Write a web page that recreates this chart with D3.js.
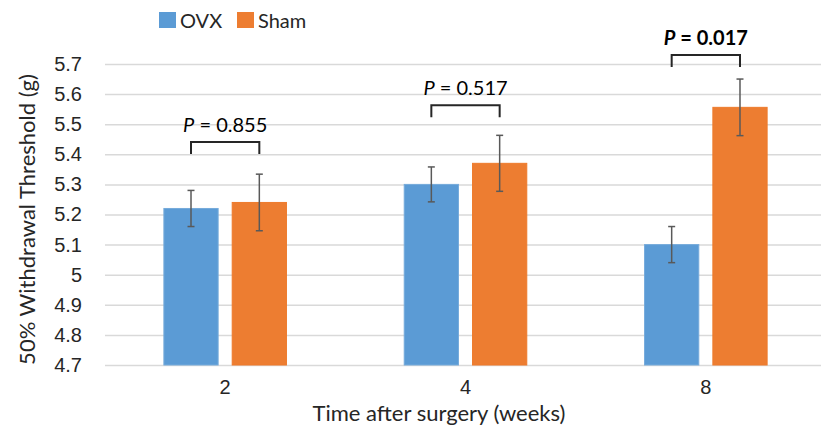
<!DOCTYPE html>
<html>
<head>
<meta charset="utf-8">
<script src="https://cdn.jsdelivr.net/npm/d3@7"></script>
<style>
  body { margin: 0; background: #fff; }
  svg { display: block; font-family: Lato, "Open Sans", sans-serif; }
</style>
</head>
<body>
<div id="chart"></div>
<script>
// values
var weeks = ["2", "4", "8"];
var groups = ["OVX", "Sham"];
var ovxMean = [5.22, 5.30, 5.10];
var ovxErr = [0.06, 0.058, 0.06];
var shamMean = [5.24, 5.37, 5.556];
var shamErr = [0.094, 0.093, 0.094];
var pValues = ["0.855", "0.517", "0.017"];
var pBold = [false, false, true];
var bracketLevel = [5.441, 5.563, 5.730];
var yTicks = [4.7, 4.8, 4.9, 5, 5.1, 5.2, 5.3, 5.4, 5.5, 5.6, 5.7];
var colours = { OVX: "#5b9bd5", Sham: "#ed7d31" };
var edges = { OVX: "#76abdb", Sham: "#ee7b2c" };

(function() {
"use strict";

var width = 821, height = 428;
var plotL = 105, plotR = 826, plotT = 64, plotB = 365;

var svg = d3.select("#chart").append("svg")
    .attr("width", width)
    .attr("height", height);

var x0 = d3.scaleBand().domain(weeks).range([plotL, plotR])
    .paddingInner(0.49).paddingOuter(0.245);
var x1 = d3.scaleBand().domain(groups).range([0, x0.bandwidth()])
    .paddingInner(0.206);
var y = d3.scaleLinear().domain([4.7, 5.7]).range([plotB, plotT]);

// gridlines + tick labels
var yAxis = svg.append("g")
    .attr("transform", "translate(" + plotL + ",0)")
    .call(d3.axisLeft(y).tickValues(yTicks).tickSize(-(plotR - plotL)).tickPadding(23)
        .tickFormat(function(d) { return String(+d.toFixed(1)); }));
yAxis.select(".domain").remove();
yAxis.selectAll("line").attr("stroke", "#d9d9d9").attr("stroke-width", 1.5);
yAxis.selectAll("text").attr("fill", "#262626").style("font-size", "20px");

var xAxis = svg.append("g")
    .attr("transform", "translate(0," + plotB + ")")
    .call(d3.axisBottom(x0).tickSize(0).tickPadding(15));
xAxis.select(".domain").remove();
xAxis.selectAll("text").attr("fill", "#262626").style("font-size", "20px");

// rows for bars
var rows = [];
weeks.forEach(function(w, i) {
    rows.push({ week: w, group: "OVX", mean: ovxMean[i], err: ovxErr[i] });
    rows.push({ week: w, group: "Sham", mean: shamMean[i], err: shamErr[i] });
});
function cx(d) { return x0(d.week) + x1(d.group) + x1.bandwidth() / 2; }

svg.append("g").selectAll("rect")
    .data(rows)
    .enter().append("rect")
    .attr("x", function(d) { return x0(d.week) + x1(d.group); })
    .attr("y", function(d) { return y(d.mean); })
    .attr("width", x1.bandwidth())
    .attr("height", function(d) { return y(4.7) - y(d.mean); })
    .attr("fill", function(d) { return colours[d.group]; })
    .attr("stroke", function(d) { return edges[d.group]; })
    .attr("stroke-width", 1);

// error bars
var eb = svg.append("g").attr("stroke", "#595959").attr("stroke-width", 1.5).attr("fill", "none");
rows.forEach(function(d) {
    var c = cx(d), t = y(d.mean + d.err), b = y(d.mean - d.err);
    eb.append("line").attr("x1", c).attr("x2", c).attr("y1", t).attr("y2", b);
    eb.append("line").attr("x1", c - 3.5).attr("x2", c + 3.5).attr("y1", t).attr("y2", t);
    eb.append("line").attr("x1", c - 3.5).attr("x2", c + 3.5).attr("y1", b).attr("y2", b);
});

// significance brackets
weeks.forEach(function(w, i) {
    var a = x0(w) + x1("OVX") + x1.bandwidth() / 2;
    var b = x0(w) + x1("Sham") + x1.bandwidth() / 2;
    var by = y(bracketLevel[i]);
    svg.append("path")
        .attr("d", "M" + a + "," + (by + 12) + "V" + by + "H" + b + "V" + (by + 12))
        .attr("fill", "none").attr("stroke", "#262626").attr("stroke-width", 2);
    var t = svg.append("text")
        .attr("x", (a + b) / 2)
        .attr("y", by - 10)
        .attr("text-anchor", "middle")
        .attr("fill", "#000")
        .style("font-size", "20px")
        .style("font-weight", pBold[i] ? "bold" : "normal");
    t.append("tspan").style("font-style", "italic").text("P");
    t.append("tspan").text(" = " + pValues[i]);
});

// legend
var lg = svg.append("g").attr("transform", "translate(159,12)");
groups.forEach(function(g, i) {
    var item = lg.append("g").attr("transform", "translate(" + (i * 78) + ",0)");
    item.append("rect").attr("width", 17).attr("height", 16).attr("fill", colours[g]);
    item.append("text").attr("x", 21).attr("y", 15.5)
        .attr("fill", "#262626").style("font-size", "20px").text(g);
});

// axis titles
svg.append("text")
    .attr("transform", "translate(35," + ((plotT + plotB) / 2 + 5) + ") rotate(-90)")
    .attr("text-anchor", "middle")
    .attr("fill", "#262626")
    .style("font-size", "22px")
    .text("50% Withdrawal Threshold (g)");

svg.append("text")
    .attr("x", 439)
    .attr("y", 421)
    .attr("text-anchor", "middle")
    .attr("fill", "#262626")
    .style("font-size", "22px")
    .text("Time after surgery (weeks)");
})();
</script>
</body>
</html>
